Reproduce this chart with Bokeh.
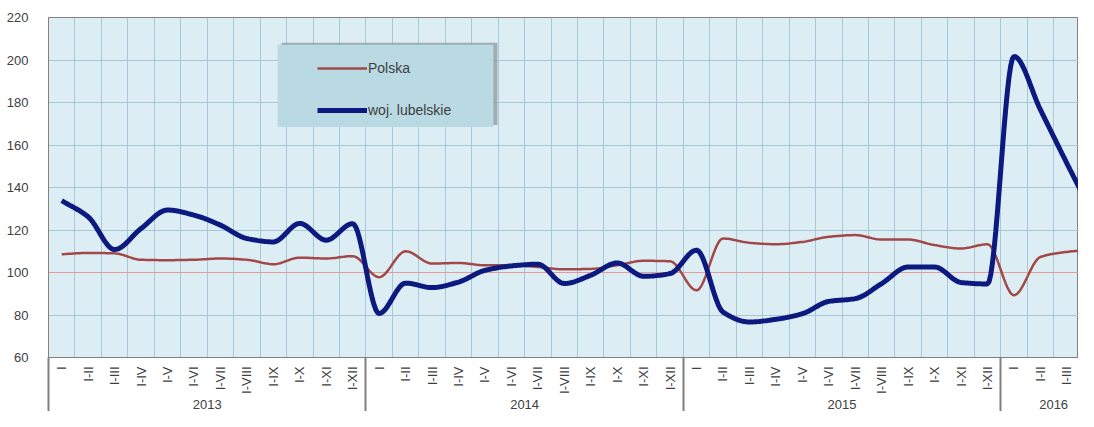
import numpy as np
from bokeh.plotting import figure
from bokeh.models import (Range1d, FixedTicker, LinearAxis, Legend, LegendItem,
                          BoxAnnotation, Span)
from bokeh.embed import file_html
from bokeh.resources import INLINE

# ---------------- data ----------------
MONTHS = ["I", "I-II", "I-III", "I-IV", "I-V", "I-VI", "I-VII", "I-VIII",
          "I-IX", "I-X", "I-XI", "I-XII"]
years = ["2013", "2014", "2015", "2016"]
months_per_year = [12, 12, 12, 4]
month_labels = MONTHS * 3 + MONTHS[:4]

polska = [108.6, 109.2, 109.0, 106.0, 105.8, 106.0, 106.6, 106.0, 103.9, 107.0, 106.6, 107.7,
          97.8, 110.0, 104.2, 104.5, 103.4, 103.4, 102.6, 101.5, 101.7, 103.4, 105.5, 105.3,
          91.6, 116.0, 114.0, 113.3, 114.4, 116.8, 117.6, 115.5, 115.5, 112.9, 111.3, 113.3,
          89.3, 107.3, 109.7, 110.8]

lubelskie = [133.8, 126.2, 110.8, 120.7, 129.4, 127.0, 122.3, 116.0, 114.4, 123.1, 115.2, 123.0,
             80.7, 95.0, 92.9, 95.5, 101.0, 103.1, 103.9, 94.8, 98.7, 104.5, 98.2, 99.5,
             110.5, 81.4, 76.7, 78.0, 80.6, 86.4, 87.7, 94.8, 102.6, 102.6, 95.3, 94.6,
             201.7, 176.6, 151.4, 127.0]

y_ticks = [60, 80, 100, 120, 140, 160, 180, 200, 220]

series_names = ["Polska", "woj. lubelskie"]

# ---------------- helpers ----------------
x_idx = list(range(len(month_labels)))


def smooth(xs, ys, steps=16):
    """Smoothed-line rendering (monotone cubic Hermite) through the data points."""
    n = len(xs)
    d = [(ys[k + 1] - ys[k]) / (xs[k + 1] - xs[k]) for k in range(n - 1)]
    m = [0.0] * n
    m[0], m[-1] = d[0], d[-1]
    for k in range(1, n - 1):
        if d[k - 1] * d[k] <= 0:
            m[k] = 0.0
        else:
            m[k] = 2.0 / (1.0 / d[k - 1] + 1.0 / d[k])
    out_x, out_y = [], []
    for k in range(n - 1):
        h = xs[k + 1] - xs[k]
        for t in np.linspace(0, 1, steps, endpoint=False):
            h00 = 2 * t**3 - 3 * t**2 + 1
            h10 = t**3 - 2 * t**2 + t
            h01 = -2 * t**3 + 3 * t**2
            h11 = t**3 - t**2
            out_x.append(xs[k] + t * h)
            out_y.append(h00 * ys[k] + h10 * h * m[k] + h01 * ys[k + 1] + h11 * h * m[k + 1])
    out_x.append(xs[-1])
    out_y.append(ys[-1])
    return out_x, out_y


FONT = "Liberation Sans"
TEXT_COLOR = "#404040"
AXIS_COLOR = "#808080"
GRID_COLOR = "#A8C8D5"

# ---------------- figure ----------------
p = figure(width=1078, height=411,
           x_range=Range1d(-0.5, 38.44), y_range=Range1d(60, 220),
           output_backend="svg", toolbar_location=None,
           min_border_left=48, min_border_right=0, min_border_top=17,
           min_border_bottom=54,
           background_fill_color="#DCEEF4", border_fill_color="white",
           outline_line_color=AXIS_COLOR, outline_line_width=1)

# grids
p.xgrid.ticker = FixedTicker(ticks=[i - 0.5 for i in range(len(month_labels) + 1)])
p.xgrid.grid_line_color = GRID_COLOR
p.ygrid.ticker = FixedTicker(ticks=y_ticks)
p.ygrid.grid_line_color = GRID_COLOR

# reference line at 100
p.add_layout(Span(location=100, dimension="width", line_color="#E89A9A",
                  line_width=1, level="underlay"))

# y axis
ya = p.yaxis[0]
ya.ticker = FixedTicker(ticks=y_ticks)
ya.major_tick_line_color = None
ya.minor_tick_line_color = None
ya.axis_line_color = AXIS_COLOR
ya.major_label_standoff = 14
ya.major_label_text_font = FONT
ya.major_label_text_font_size = "13px"
ya.major_label_text_color = TEXT_COLOR

# month axis (group separators drawn as long minor ticks)
SEP_LEN = 70
year_starts = np.cumsum([0] + months_per_year[:-1])
separators = [float(s) - 0.5 for s in year_starts]
xa = p.xaxis[0]
xa.ticker = FixedTicker(ticks=x_idx, minor_ticks=separators)
xa.major_label_overrides = {i: lab for i, lab in zip(x_idx, month_labels)}
xa.major_label_orientation = np.pi / 2
xa.major_tick_line_color = None
xa.minor_tick_in = 0
xa.minor_tick_out = SEP_LEN
xa.minor_tick_line_color = AXIS_COLOR
xa.minor_tick_line_width = 2
xa.axis_line_color = AXIS_COLOR
xa.major_label_standoff = 9 - SEP_LEN
xa.major_label_text_font = FONT
xa.major_label_text_font_size = "13px"
xa.major_label_text_color = TEXT_COLOR

# year axis
year_centers = [float(s + n / 2.0 - 0.5) for s, n in zip(year_starts, months_per_year)]
yr = LinearAxis(ticker=FixedTicker(ticks=year_centers),
                major_label_overrides={c: y for c, y in zip(year_centers, years)},
                axis_line_color=None, major_tick_line_color=None,
                minor_tick_line_color=None, major_label_standoff=-3,
                major_label_text_font=FONT, major_label_text_font_size="13px",
                major_label_text_color=TEXT_COLOR)
p.add_layout(yr, "below")

# lines
sx, sy = smooth(x_idx, polska)
r_pl = p.line(sx, sy, line_color="#A34848", line_width=2.5)
sx2, sy2 = smooth(x_idx, lubelskie)
r_lu = p.line(sx2, sy2, line_color="#0C1A80", line_width=5)

# legend box (shadow + box)
BOX_L, BOX_R, BOX_B, BOX_T = 8.16, 16.32, 168.5, 207.2
p.add_layout(BoxAnnotation(left=BOX_L + 0.15, right=BOX_R + 0.15,
                           bottom=BOX_B + 0.95, top=BOX_T + 0.95,
                           fill_color="#8C969B", fill_alpha=0.75, line_color=None))
p.add_layout(BoxAnnotation(left=BOX_L, right=BOX_R, bottom=BOX_B, top=BOX_T,
                           fill_color="#BADAE3", fill_alpha=1.0, line_color=None))

legend = Legend(items=[LegendItem(label=series_names[0], renderers=[r_pl]),
                       LegendItem(label=series_names[1], renderers=[r_lu])],
                location=(269, 237), background_fill_alpha=0,
                border_line_color=None, padding=0, margin=0, spacing=22,
                glyph_width=50, glyph_height=20, label_height=20,
                label_standoff=1, label_text_font=FONT,
                label_text_font_size="14px", label_text_color=TEXT_COLOR)
p.add_layout(legend)

open("out.html", "w").write(file_html(p, INLINE))
